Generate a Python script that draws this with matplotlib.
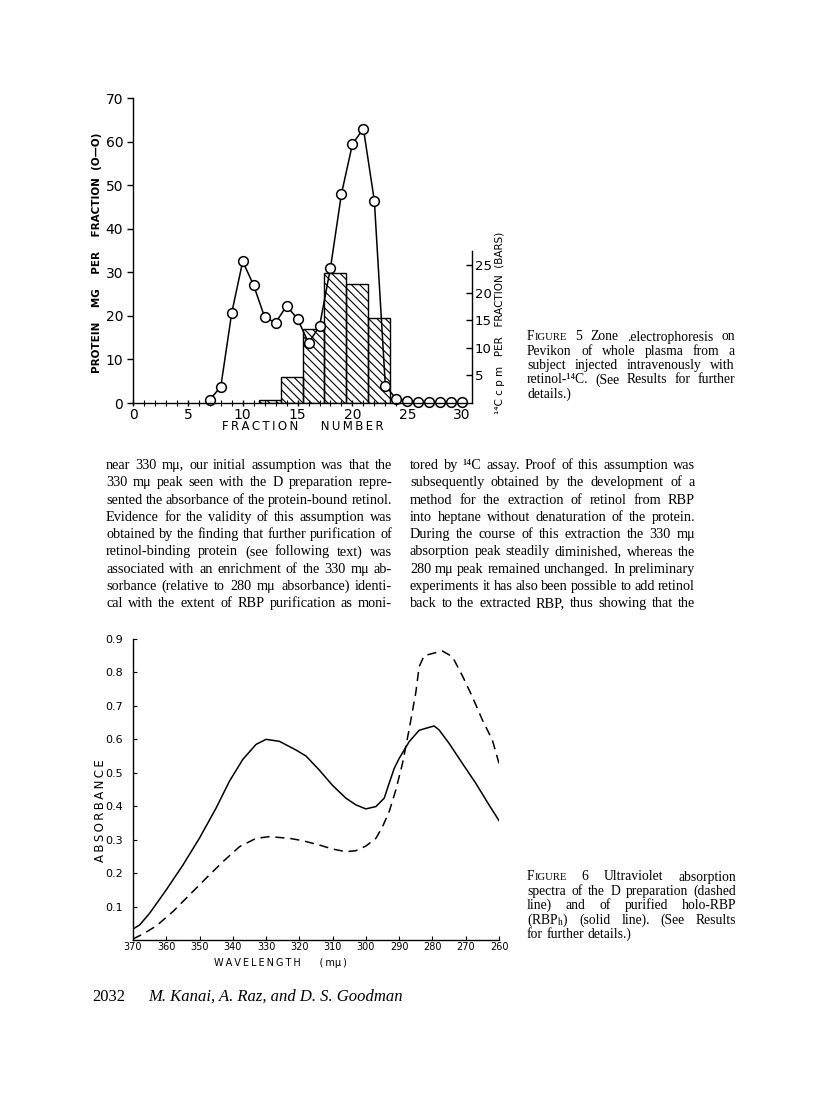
import matplotlib
matplotlib.use("Agg")
import matplotlib.pyplot as plt

plt.rcParams['mathtext.fontset'] = 'stix'
plt.rcParams['hatch.linewidth'] = 0.8

# ---------------- data: Figure 5 ----------------
fraction = [7, 8, 9, 10, 11, 12, 13, 14, 15, 16, 17, 18, 19, 20, 21, 22, 23, 24, 25, 26, 27, 28, 29, 30]
protein_mg = [0.8, 3.7, 20.7, 32.5, 27.0, 19.7, 18.4, 22.3, 19.3, 13.8, 17.6, 31.0, 48.0, 59.4, 63.0, 46.4,
              4.0, 0.9, 0.5, 0.3, 0.3, 0.3, 0.3, 0.3]
bar_left = [11.45, 13.45, 15.45, 17.45, 19.45, 21.45]
cpm = [0.5, 4.8, 13.5, 23.7, 21.6, 15.5]
x_ticks5 = [0, 5, 10, 15, 20, 25, 30]
y_ticks5 = [0, 10, 20, 30, 40, 50, 60, 70]
y2_ticks5 = [5, 10, 15, 20, 25]

# ---------------- data: Figure 6 ----------------
wl_solid = [370, 368, 365, 360, 355, 350, 345, 341, 337, 333, 330, 326, 321, 318, 314, 310, 306, 303,
            300, 297, 294.5, 293, 291.5, 290, 287, 284, 282, 279.5, 278, 275, 271, 267, 263, 260]
abs_solid = [0.033, 0.045, 0.08, 0.15, 0.224, 0.305, 0.395, 0.475, 0.54, 0.585, 0.600, 0.594, 0.568,
             0.55, 0.508, 0.462, 0.424, 0.404, 0.392, 0.399, 0.424, 0.469, 0.513, 0.543, 0.593, 0.627,
             0.633, 0.640, 0.628, 0.588, 0.528, 0.469, 0.404, 0.357]
wl_dashed = [370, 367, 363, 358, 353, 348, 343, 338, 333, 329, 323, 319, 314, 310, 306, 303, 300, 297,
             295, 293, 291, 289, 287, 285, 284, 282.5, 279.5, 277, 274, 271, 268, 265, 262, 260]
abs_dashed = [0.003, 0.018, 0.042, 0.085, 0.135, 0.185, 0.234, 0.279, 0.304, 0.309, 0.304, 0.297, 0.284,
              0.272, 0.264, 0.267, 0.281, 0.304, 0.339, 0.384, 0.449, 0.528, 0.63, 0.74, 0.817, 0.85,
              0.858, 0.864, 0.847, 0.79, 0.727, 0.658, 0.598, 0.528]
x_ticks6 = [370, 360, 350, 340, 330, 320, 310, 300, 290, 280, 270, 260]
y_ticks6 = [0.1, 0.2, 0.3, 0.4, 0.5, 0.6, 0.7, 0.8, 0.9]

# ---------------- text ----------------
left_col = [
    "near 330 mμ, our initial assumption was that the",
    "330 mμ peak seen with the D preparation repre-",
    "sented the absorbance of the protein-bound retinol.",
    "Evidence for the validity of this assumption was",
    "obtained by the finding that further purification of",
    "retinol-binding protein (see following text) was",
    "associated with an enrichment of the 330 mμ ab-",
    "sorbance (relative to 280 mμ absorbance) identi-",
    "cal with the extent of RBP purification as moni-",
]
right_col = [
    "tored by ¹⁴C assay. Proof of this assumption was",
    "subsequently obtained by the development of a",
    "method for the extraction of retinol from RBP",
    "into heptane without denaturation of the protein.",
    "During the course of this extraction the 330 mμ",
    "absorption peak steadily diminished, whereas the",
    "280 mμ peak remained unchanged. In preliminary",
    "experiments it has also been possible to add retinol",
    "back to the extracted RBP, thus showing that the",
]
caption5 = [
    "FIGURE 5 Zone .electrophoresis on",
    "Pevikon of whole plasma from a",
    "subject injected intravenously with",
    "retinol-¹⁴C. (See Results for further",
    "details.)",
]
caption6 = [
    "FIGURE 6 Ultraviolet absorption",
    "spectra of the D preparation (dashed",
    "line) and of purified holo-RBP",
    "(RBP$_\\mathrm{h}$) (solid line). (See Results",
    "for further details.)",
]

W, H = 816, 1100
fig = plt.figure(figsize=(W / 100, H / 100), dpi=100)
fig.patch.set_facecolor('white')
renderer = fig.canvas.get_renderer()


def fx(px):
    return px / W


def fy(py):
    return 1 - py / H


SANS = ['DejaVu Sans']
SERIF = ['Liberation Serif', 'DejaVu Serif']


def tw(s, **kw):
    t = fig.text(0, 0, s, **kw)
    w = t.get_window_extent(renderer).width
    t.remove()
    return w


def runs_of(word):
    if word == 'FIGURE':
        return [('F', 1.0), ('IGURE', 0.78)]
    return [(word, 1.0)]


def line_text(line, x0, x1, yb, size, justify=True, family=SERIF, style='normal'):
    words = line.split(' ')
    kw = dict(family=family, style=style)
    space = tw('a a', fontsize=size, **kw) - tw('aa', fontsize=size, **kw)

    def widths(sz):
        out = []
        for w in words:
            total = 0
            for r, f in runs_of(w):
                total += tw(r, fontsize=sz * f, **kw)
            out.append(total)
        return out

    wlist = widths(size)
    # shrink the line slightly if it cannot fit with a minimal word gap
    while justify and sum(wlist) + 0.55 * space * (len(words) - 1) > (x1 - x0) and size > 6:
        size *= 0.98
        wlist = widths(size)
    if justify and len(words) > 1:
        gap = (x1 - x0 - sum(wlist)) / (len(words) - 1)
    else:
        gap = space
    x = x0
    for w, wd in zip(words, wlist):
        xx = x
        for r, f in runs_of(w):
            fig.text(fx(xx), fy(yb), r, fontsize=size * f, ha='left', va='baseline', color='black', **kw)
            xx += tw(r, fontsize=size * f, **kw)
        x += wd + gap


# ================= Figure 5 =================
ax = fig.add_axes([fx(133), fy(403), fx(472) - fx(133), fy(98) - fy(403)])
ax2 = ax.twinx()
ax2.bar(bar_left, cpm, width=2, align='edge', facecolor='none', edgecolor='black',
        hatch='\\\\\\\\', linewidth=1.0)
ax.plot(fraction, protein_mg, '-o', color='black', mfc='white', mec='black', ms=7, mew=1.1, lw=1.1,
        clip_on=False)
ax.set_zorder(ax2.get_zorder() + 1)
ax.patch.set_visible(False)
ax.set_xlim(0, 30.9)
ax.set_ylim(0, 70)
ax2.set_ylim(0, 55.45)
for s in ['top', 'right']:
    ax.spines[s].set_visible(False)
for s in ['top', 'left', 'bottom']:
    ax2.spines[s].set_visible(False)
ax2.spines['right'].set_bounds(0, 27.7)
for sp in [ax.spines['left'], ax.spines['bottom'], ax2.spines['right']]:
    sp.set_linewidth(1.0)
ax.set_xticks(x_ticks5)
ax.set_xticks(range(0, 31), minor=True)
ax.set_yticks(y_ticks5)
ax.tick_params(axis='x', which='major', direction='inout', length=5, width=1, pad=1, labelsize=10)
ax.tick_params(axis='x', which='minor', direction='inout', length=4, width=0.8)
ax.tick_params(axis='y', direction='out', length=4, width=1, pad=3, labelsize=10)
ax2.set_yticks(y2_ticks5)
ax2.tick_params(axis='y', direction='in', length=4, width=1, pad=2, labelsize=9.5)
for lab in ax.get_xticklabels() + ax.get_yticklabels() + ax2.get_yticklabels():
    lab.set_family(SANS)

fig.text(fx(97), fy(253), 'PROTEIN    MG    PER    FRACTION  (O—O)', rotation=90, ha='center',
         va='center', fontsize=7.5, fontweight='bold', family=SANS)
fig.text(fx(500), fy(323), '¹⁴C c p m   PER   FRACTION  (BARS)', rotation=90, ha='center',
         va='center', fontsize=7.5, family=SANS)
fig.text(fx(303), fy(427), 'F\u2009R\u2009A\u2009C\u2009T\u2009I\u2009O\u2009N      N\u2009U\u2009M\u2009B\u2009E\u2009R',
         ha='center', va='center', fontsize=8.5, family=SANS)

# ================= Figure 6 =================
ax3 = fig.add_axes([fx(133), fy(940), fx(499) - fx(133), fy(639) - fy(940)])
ax3.plot(wl_solid, abs_solid, '-', color='black', lw=1.1)
ax3.plot(wl_dashed, abs_dashed, color='black', lw=1.1, ls=(0, (6, 3.8)))
ax3.set_xlim(370, 260)
ax3.set_ylim(0, 0.9)
for s in ['top', 'right']:
    ax3.spines[s].set_visible(False)
for s in ['left', 'bottom']:
    ax3.spines[s].set_linewidth(1.0)
ax3.set_xticks(x_ticks6)
ax3.set_xticklabels([str(v) for v in x_ticks6])
ax3.set_yticks(y_ticks6)
ax3.set_yticklabels(['%.1f' % v for v in y_ticks6])
ax3.tick_params(axis='x', direction='in', length=3, width=0.8, pad=1.5, labelsize=7)
ax3.tick_params(axis='y', direction='in', length=3, width=0.8, pad=7, labelsize=8)
for lab in ax3.get_xticklabels() + ax3.get_yticklabels():
    lab.set_family(SANS)
fig.text(fx(100), fy(811), 'A\u2009B\u2009S\u2009O\u2009R\u2009B\u2009A\u2009N\u2009C\u2009E', rotation=90,
         ha='center', va='center', fontsize=8.5, family=SANS)
fig.text(fx(280), fy(963), 'W\u2009A\u2009V\u2009E\u2009L\u2009E\u2009N\u2009G\u2009T\u2009H      (\u2009mμ\u2009)',
         ha='center', va='center', fontsize=7, family=SANS)

# ================= body text =================
for i, line in enumerate(left_col):
    line_text(line, 106, 392, 469 + 17.3 * i, 10.3)
for i, line in enumerate(right_col):
    line_text(line, 410, 695, 469 + 17.3 * i, 10.3)

for i, line in enumerate(caption5):
    line_text(line, 527, 735, 340.5 + 14.3 * i, 9.8, justify=(i < len(caption5) - 1))
for i, line in enumerate(caption6):
    line_text(line, 527, 736, 880.5 + 14.4 * i, 9.8, justify=(i < len(caption6) - 1))

# footer
fig.text(fx(92), fy(1001), '2032', ha='left', va='baseline', fontsize=12, family=SERIF)
fig.text(fx(148), fy(1001), 'M. Kanai, A. Raz, and D. S. Goodman', ha='left', va='baseline',
         fontsize=12, family=SERIF, style='italic')

fig.savefig('out.png', dpi=100, facecolor='white')
